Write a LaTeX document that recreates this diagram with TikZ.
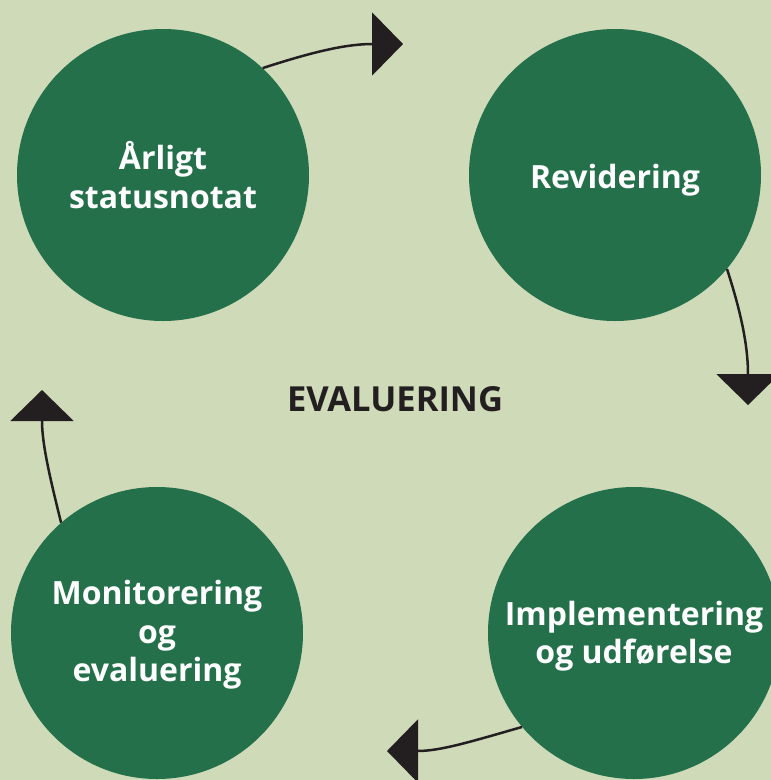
\documentclass[tikz,border=0pt]{standalone}
\usepackage{fontspec}
\setmainfont{Open Sans}
\usetikzlibrary{arrows.meta}
\definecolor{bg}{HTML}{CFDAB9}
\definecolor{skov}{HTML}{23704A}
\definecolor{sort}{HTML}{231F20}
\newcommand{\ned}[2]{\raisebox{-#1}[\height][\depth]{#2}}

\begin{document}
\begin{tikzpicture}[x=1pt,y=-1pt,
        fase/.style={circle,fill=skov,minimum size=292pt,inner sep=0pt,text=white,align=center,
            font=\fontsize{32}{38.5}\selectfont\bfseries},
        pil/.style={-{Triangle[length=31pt,width=63pt]},line width=2.5pt,draw=sort,sort}]
        \useasboundingbox (0,0) rectangle (771,780);
        \clip (0,0) rectangle (771,780);
        \fill[bg] (0,0) rectangle (771,780);
        \node[fase] (Aar) at (163,175) {Årligt\\statusnotat};
        \node[fase] (Rev) at (615,175) {\ned{5pt}{Revidering}};
        \node[fase] (Imp) at (634,633) {\ned{3pt}{Implementering}\\\ned{3pt}{og udførelse}};
        \node[fase] (Mon) at (157,633) {\ned{2pt}{Monitorering}\\\ned{2pt}{og}\\\ned{2pt}{evaluering}};
        \node[text=sort,font=\fontsize{34.5}{40}\selectfont\bfseries] (Ev) at (395,399) {EVALUERING};
        \coordinate (t1) at (403,44);
        \coordinate (t2) at (748,405);
        \coordinate (t3) at (387,751);
        \coordinate (t4) at (42,390);
        \draw[pil] (Aar.47) to[out=18,in=180] (t1);
        \draw[pil] (Rev.-40) to[out=-72,in=90] (t2);
        \draw[pil] (Imp.220) to[out=196,in=0] (t3);
        \draw[pil] (Mon.131) to[out=104,in=-90] (t4);
    \end{tikzpicture}
\end{document}
